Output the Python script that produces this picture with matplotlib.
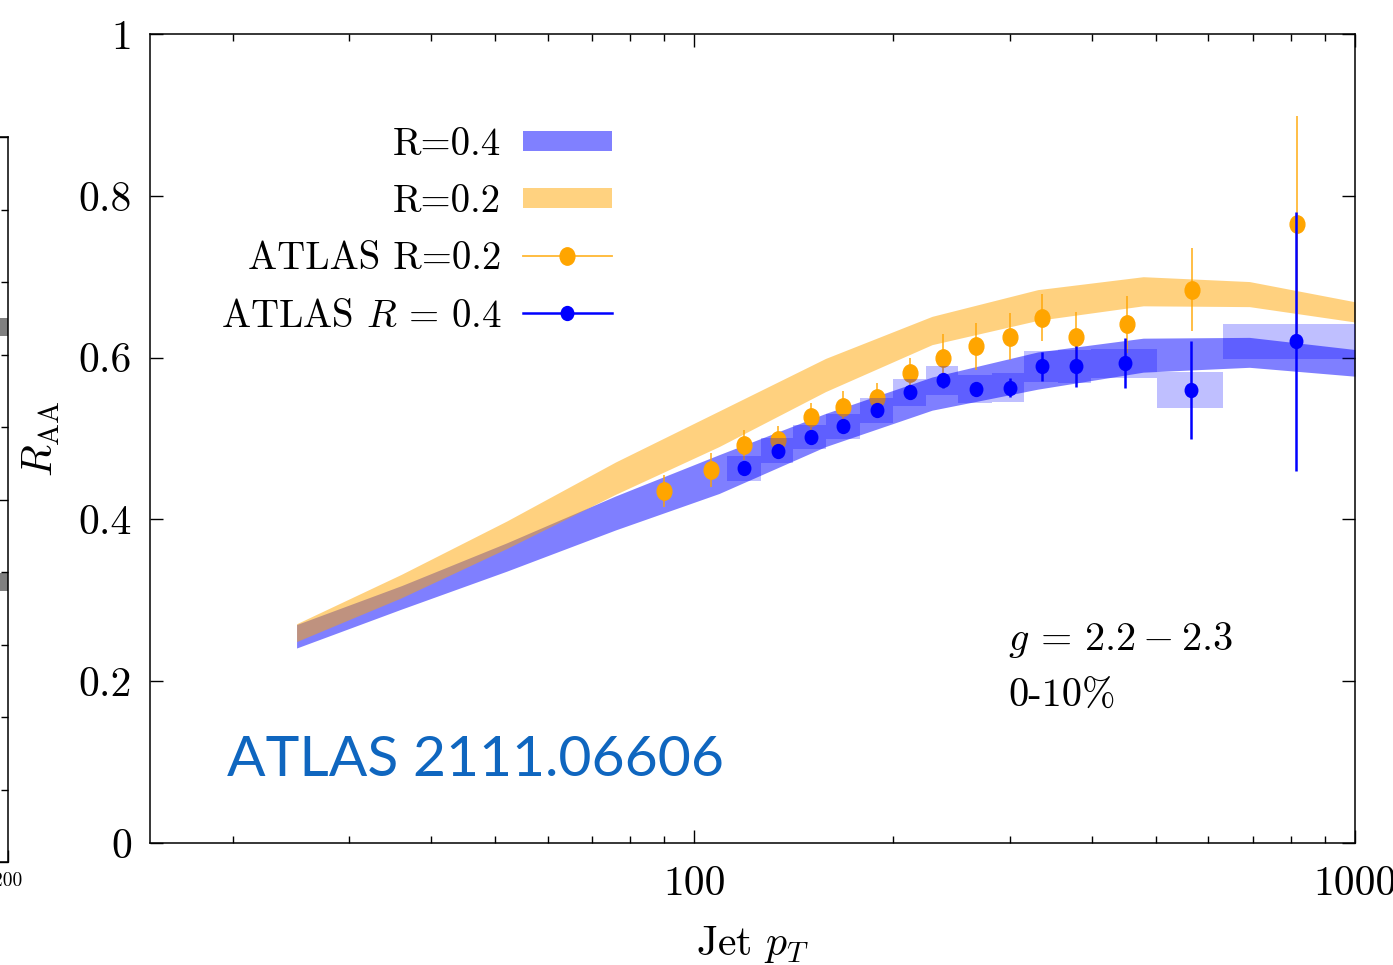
import matplotlib
matplotlib.use('Agg')
import matplotlib.pyplot as plt
from matplotlib.lines import Line2D
from matplotlib.path import Path
from matplotlib.transforms import Affine2D
from matplotlib.ticker import FixedLocator, NullFormatter, LogLocator, FixedFormatter

plt.rcParams['font.family'] = ['cmr10', 'DejaVu Serif']
plt.rcParams['mathtext.fontset'] = 'cm'
plt.rcParams['axes.unicode_minus'] = False
plt.rcParams['axes.formatter.use_mathtext'] = True

# ---------------- data ----------------
# theory bands (jet pT nodes)
pt_theory = [25, 36, 52, 76, 109, 158, 229, 331, 478, 692, 1000]
r04_lo = [0.241, 0.289, 0.336, 0.387, 0.432, 0.490, 0.535, 0.561, 0.582, 0.588, 0.577]
r04_hi = [0.270, 0.318, 0.371, 0.429, 0.480, 0.531, 0.576, 0.607, 0.624, 0.625, 0.610]
r02_lo = [0.249, 0.303, 0.364, 0.431, 0.490, 0.558, 0.616, 0.646, 0.664, 0.663, 0.644]
r02_hi = [0.271, 0.332, 0.398, 0.471, 0.534, 0.599, 0.651, 0.684, 0.700, 0.694, 0.669]

# ATLAS R=0.2
atl02_pt = [90, 106, 119, 134, 150, 168, 189, 212, 238, 267, 300, 336, 378, 452, 567, 818]
atl02_raa = [0.4355, 0.461, 0.492, 0.498, 0.527, 0.539, 0.550, 0.581, 0.600, 0.614,
             0.626, 0.649, 0.625, 0.641, 0.684, 0.765]
atl02_err = [0.020, 0.021, 0.018, 0.017, 0.017, 0.020, 0.018, 0.018, 0.029, 0.029,
             0.029, 0.029, 0.031, 0.035, 0.051, 0.134]

# ATLAS R=0.4
atl04_pt = [119, 134, 150, 168, 189, 212, 238, 267, 300, 336, 378, 449, 565, 815]
atl04_raa = [0.463, 0.485, 0.502, 0.515, 0.535, 0.557, 0.572, 0.561, 0.563, 0.589,
             0.589, 0.593, 0.560, 0.620]
atl04_stat = [0.006, 0.006, 0.006, 0.006, 0.007, 0.008, 0.009, 0.008, 0.012, 0.018,
              0.025, 0.031, 0.060, 0.160]
atl04_syst = [0.015, 0.0155, 0.015, 0.015, 0.0155, 0.017, 0.018, 0.0175, 0.018, 0.019,
              0.021, 0.018, 0.022, 0.022]
atl04_bin_lo = [112, 126, 141, 158, 178, 200, 224, 251, 282, 316, 355, 398, 501, 631]
atl04_bin_hi = [126, 141, 158, 178, 200, 224, 251, 282, 316, 355, 398, 501, 631, 1000]

xtick_vals = [100, 1000]
xtick_labels = ['100', '1000']
ytick_vals = [0, 0.2, 0.4, 0.6, 0.8, 1.0]
ytick_labels = ['0', '0.2', '0.4', '0.6', '0.8', '1']

legend_labels = ['R=0.4', 'R=0.2', 'ATLAS R=0.2', r'ATLAS $R\,=\,0.4$']

# neighbouring panel (cut off at the left edge)
side_bar_y = [0.386, 0.738]

# ---------------- figure ----------------
fig = plt.figure(figsize=(13.93, 9.65), dpi=100)
ax = fig.add_axes([150/1393, 1-843/965, (1355-150)/1393, (843-34)/965])

FS = 30
LFS = 28

def ellipse(aspect):
    return Path.unit_circle().transformed(Affine2D().scale(aspect, 1.0))

m_orange = ellipse(0.85)
m_blue = ellipse(0.9)

# bands
ax.fill_between(pt_theory, r04_lo, r04_hi, color='blue', alpha=0.5, lw=0, zorder=1)
ax.fill_between(pt_theory, r02_lo, r02_hi, color='orange', alpha=0.5, lw=0, zorder=2)

# ATLAS R=0.2
ax.errorbar(atl02_pt, atl02_raa, yerr=atl02_err, fmt='none', ecolor='#ffa500',
            elinewidth=1.2, capsize=0, alpha=0.85, zorder=3)
ax.plot(atl02_pt, atl02_raa, ls='none', marker=m_orange, ms=12.5, color='#ffa500',
        mec='#ffa500', zorder=4)

# ATLAS R=0.4 systematics boxes
widths = [h - l for l, h in zip(atl04_bin_lo, atl04_bin_hi)]
bottoms = [v - s for v, s in zip(atl04_raa, atl04_syst)]
heights = [2 * s for s in atl04_syst]
ax.bar(atl04_bin_lo, heights, width=widths, bottom=bottoms, align='edge',
       color='blue', alpha=0.25, lw=0, zorder=5)
ax.errorbar(atl04_pt, atl04_raa, yerr=atl04_stat, fmt='none', ecolor='blue',
            elinewidth=1.8, capsize=0, zorder=6)
ax.plot(atl04_pt, atl04_raa, ls='none', marker=m_blue, ms=10, color='blue',
        mec='blue', zorder=7)

# axes
ax.set_xscale('log')
ax.set_xlim(15, 1000)
ax.set_ylim(0, 1)
ax.xaxis.set_major_locator(FixedLocator(xtick_vals))
ax.xaxis.set_major_formatter(FixedFormatter(xtick_labels))
ax.xaxis.set_minor_locator(LogLocator(base=10, subs=[2, 3, 4, 5, 6, 7, 8, 9]))
ax.xaxis.set_minor_formatter(NullFormatter())
ax.yaxis.set_major_locator(FixedLocator(ytick_vals))
ax.yaxis.set_major_formatter(FixedFormatter(ytick_labels))
ax.tick_params(which='both', direction='in', top=True, right=True, width=1.0)
ax.tick_params(which='major', length=9.5, labelsize=FS)
ax.tick_params(which='minor', length=5)
ax.tick_params(axis='y', pad=13)
ax.tick_params(axis='x', pad=16)
for s in ax.spines.values():
    s.set_linewidth(1.1)

ax.set_xlabel(r'Jet $p_T$', fontsize=FS)
ax.xaxis.set_label_coords(0.5, -0.1)
ax.set_ylabel(r'$R_{\rm AA}$', fontsize=FS)
ax.yaxis.set_label_coords(-0.073, 0.5)

# legend
h1 = Line2D([], [], color='#8080ff', lw=14.4, solid_capstyle='butt')
h2 = Line2D([], [], color='#ffd280', lw=14.4, solid_capstyle='butt')
h3 = Line2D([], [], color='#ffb733', lw=1.3, marker=m_orange, ms=12.5,
            mfc='#ffa500', mec='#ffa500')
h4 = Line2D([], [], color='blue', lw=1.8, marker=m_blue, ms=10, mfc='blue', mec='blue')
ax.legend([h1, h2, h3, h4], legend_labels, loc='upper right',
          bbox_to_anchor=((612-150)/1205, (843-127)/809), frameon=False,
          markerfirst=False, fontsize=LFS, handlelength=2.3, handletextpad=0.55,
          labelspacing=0.55, borderpad=0, borderaxespad=0)

# annotations
ax.text((1008-150)/1205, (843-640)/809, r'$g\,=\,2.2 - 2.3$', fontsize=29,
        ha='left', va='center', transform=ax.transAxes)
ax.text((1008-150)/1205, (843-697)/809, '0-10%', fontsize=29,
        ha='left', va='center', transform=ax.transAxes)
ax.text((227-150)/1205, (843-760)/809, 'ATLAS 2111.06606', fontsize=41,
        family=['Lato', 'DejaVu Sans'], fontweight='normal', color='#0f66bf',
        ha='left', va='center', transform=ax.transAxes)

# neighbouring (cut-off) panel at the left edge
ax2 = fig.add_axes([8/1393 - 0.3, 1-862/965, 0.3, (862-137)/965])
ax2.set_xlim(0, 200)
ax2.set_ylim(0, 1)
ax2.barh(side_bar_y, [60, 60], left=140, height=0.025, color='#808080', lw=0)
ax2.set_xticks([200])
ax2.set_xticklabels(['200'])
ax2.set_yticks([0, 0.5, 1.0])
ax2.set_yticks([0.1, 0.2, 0.3, 0.4, 0.6, 0.7, 0.8, 0.9], minor=True)
ax2.tick_params(which='both', direction='in', right=True, left=False,
                labelleft=False, width=1.0)
ax2.tick_params(which='major', length=9)
ax2.tick_params(which='minor', length=5)
ax2.tick_params(axis='x', labelsize=14, pad=7)
for s in ax2.spines.values():
    s.set_linewidth(1.1)

fig.savefig('out.png', dpi=100)
